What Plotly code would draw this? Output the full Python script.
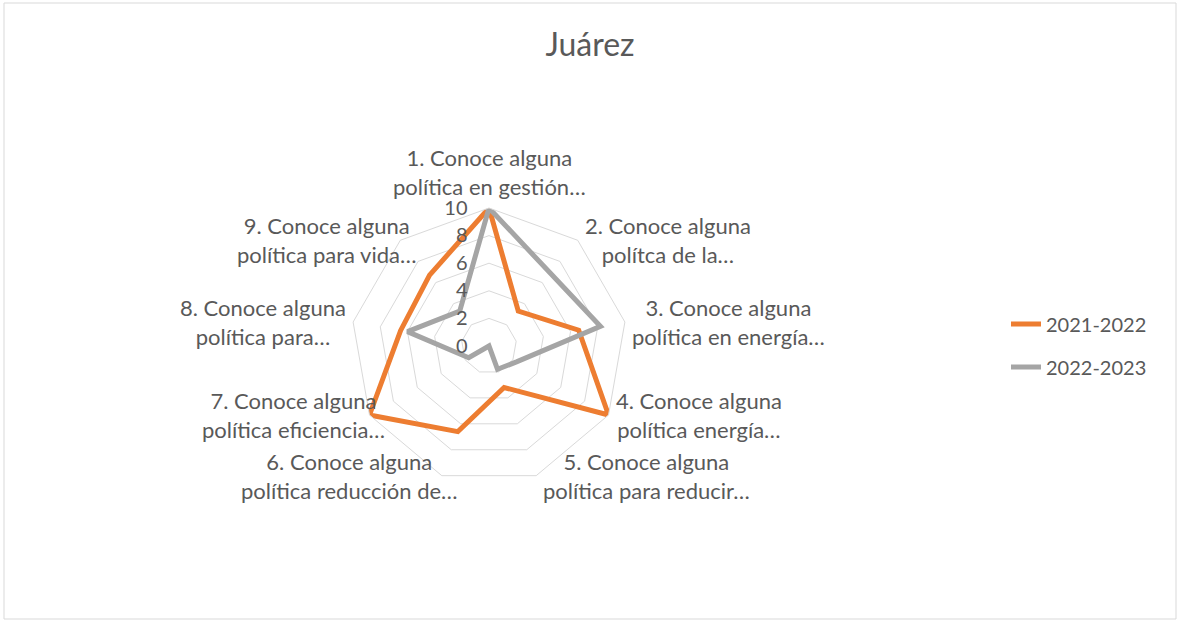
import math
import plotly.graph_objects as go

# categorías (ejes del radar)
categorias = [
    "1. Conoce alguna<br>política en gestión…",
    "2. Conoce alguna<br>polítca de la…",
    "3. Conoce alguna<br>política en energía…",
    "4. Conoce alguna<br>política energía…",
    "5. Conoce alguna<br>política para reducir…",
    "6. Conoce alguna<br>política reducción de…",
    "7. Conoce alguna<br>política eficiencia…",
    "8. Conoce alguna<br>política para…",
    "9. Conoce alguna<br>política para vida…",
]

valores_2021_2022 = [10, 3.3, 6.6, 10, 3.2, 6.6, 10, 6.5, 6.7]
valores_2022_2023 = [10, 6.9, 8.2, 2.3, 1.8, 0, 1.7, 6, 3.3]

radial_ticks = [0, 2, 4, 6, 8, 10]

TXT = "#595959"
GRID = "#d9d9d9"
FONT = "Lato, Open Sans, sans-serif"

fig = go.Figure()

# cerrar el polígono repitiendo el primer punto
fig.add_trace(go.Scatterpolar(
    r=valores_2021_2022 + valores_2021_2022[:1],
    theta=categorias + categorias[:1],
    mode="lines",
    name="2021-2022",
    line=dict(color="#ED7D31", width=5),
    legend="legend",
))
fig.add_trace(go.Scatterpolar(
    r=valores_2022_2023 + valores_2022_2023[:1],
    theta=categorias + categorias[:1],
    mode="lines",
    name="2022-2023",
    line=dict(color="#A5A5A5", width=5),
    legend="legend2",
))

cx, cy, rad = 489, 346, 138
W, H = 1180, 624

# etiquetas de categoría al estilo Excel (texto centrado fuera del polígono)
nudge = [0, 0, 0, 0, 0, 23, 23, 0, 23]
annotations = []
n = len(categorias)
for i, txt in enumerate(categorias):
    a = math.radians(360 / n * i)
    vx = cx + rad * math.sin(a)
    vy = cy - rad * math.cos(a)
    if i == 0:
        x, y, xa, ya = vx, vy - 6, "center", "bottom"
    elif math.sin(a) > 0:
        x, y, xa, ya = vx + 5, vy, "left", "middle"
    else:
        x, y, xa, ya = vx - 5 + nudge[i], vy, "right", "middle"
    annotations.append(dict(
        text=txt, x=x / W, y=1 - y / H, xref="paper", yref="paper",
        xanchor=xa, yanchor=ya, align="center", showarrow=False,
        font=dict(size=22, color=TXT, family=FONT),
    ))

fig.update_layout(
    width=W, height=H,
    margin=dict(l=0, r=0, t=0, b=0),
    paper_bgcolor="white",
    showlegend=True,
    font=dict(family=FONT, color=TXT, size=18),
    title=dict(text="Juárez", x=0.5, xanchor="center", y=1 - 45 / H, yanchor="middle",
               font=dict(size=32, color=TXT, family=FONT)),
    polar=dict(
        domain=dict(x=[(cx - rad) / W, (cx + rad) / W],
                    y=[(H - cy - rad) / H, (H - cy + rad) / H]),
        bgcolor="white",
        gridshape="linear",
        radialaxis=dict(
            range=[0, 10], tickvals=radial_ticks, angle=90, side="counterclockwise",
            tickangle=90, showline=False, ticks="outside", ticklen=14,
            tickcolor="rgba(0,0,0,0)", gridcolor=GRID, gridwidth=1,
            tickfont=dict(size=20, color=TXT),
        ),
        angularaxis=dict(
            direction="clockwise", rotation=90, showgrid=False,
            linecolor=GRID, linewidth=1, ticks="", showticklabels=False,
        ),
    ),
    annotations=annotations,
    legend=dict(x=1006 / W, y=1 - 324 / H, xanchor="left", yanchor="middle",
                font=dict(size=20, color=TXT), bgcolor="rgba(0,0,0,0)"),
    legend2=dict(x=1006 / W, y=1 - 367 / H, xanchor="left", yanchor="middle",
                 font=dict(size=20, color=TXT), bgcolor="rgba(0,0,0,0)"),
    shapes=[dict(type="rect", xref="paper", yref="paper",
                 x0=4 / W, x1=1176 / W, y0=1 - 619 / H, y1=1 - 3 / H,
                 line=dict(color=GRID, width=1))],
)

fig.write_html("out.html", config={"displayModeBar": False},
               post_script="document.body.style.margin='0';")
